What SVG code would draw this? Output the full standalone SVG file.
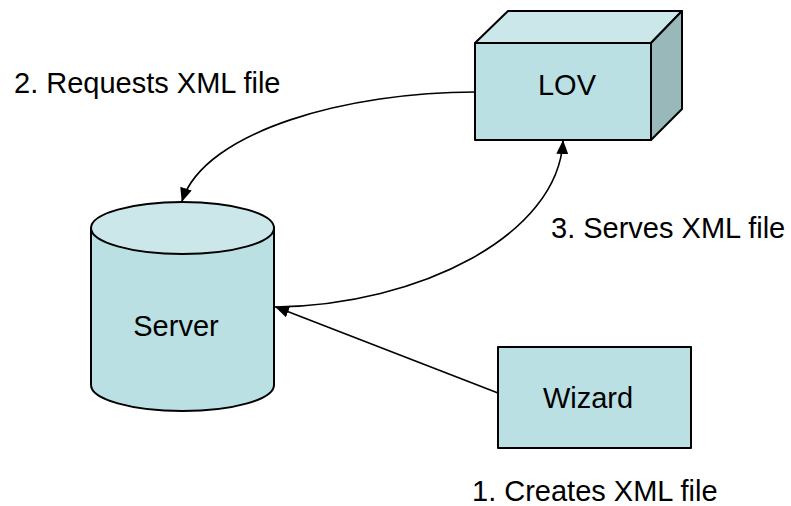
<svg xmlns="http://www.w3.org/2000/svg" width="791" height="506" viewBox="0 0 791 506">
  <style>
    .shape { fill: #bae0e3; stroke: #000; stroke-width: 2; stroke-linejoin: round; }
    .light { fill: #cbe7ea; }
    .dark { fill: #98b8ba; }
    .edge { fill: none; stroke: #000; stroke-width: 1.6; }
    text { font-family: "Liberation Sans", Arial, sans-serif; font-size: 29px; fill: #000; }
    .mid { text-anchor: middle; }
  </style>
  <defs>
    <marker id="head" viewBox="0 0 14 12" refX="13" refY="6" markerWidth="14" markerHeight="12" markerUnits="userSpaceOnUse" orient="auto">
      <path d="M0,0 L14,6 L0,12 Z" fill="#000"/>
    </marker>
  </defs>

  <g id="connectors">
    <path class="edge" d="M475,92 C350,92 205,130 182,201" marker-end="url(#head)"/>
    <path class="edge" d="M275,307 C420,305 558,235 563,141" marker-end="url(#head)"/>
    <path class="edge" d="M498,393 L276,307" marker-end="url(#head)"/>
  </g>

  <g id="lov">
    <path class="shape light" d="M475,43 L508,11 L682,11 L651,43 Z"/>
    <path class="shape dark" d="M651,43 L682,11 L682,109 L651,140 Z"/>
    <rect class="shape" x="475" y="43" width="176" height="97"/>
    <text class="mid" x="567" y="95">LOV</text>
  </g>

  <g id="server">
    <path class="shape" d="M91,228 L91,385 A91.5,26 0 0 0 274,385 L274,228 Z"/>
    <ellipse class="shape light" cx="182.5" cy="228" rx="91.5" ry="26"/>
    <text class="mid" x="176" y="336">Server</text>
  </g>

  <g id="wizard">
    <rect class="shape" x="498" y="347" width="193" height="101"/>
    <text class="mid" x="588" y="408">Wizard</text>
  </g>

  <text x="14" y="93">2. Requests XML file</text>
  <text x="551" y="238">3. Serves XML file</text>
  <text x="472" y="501">1. Creates XML file</text>
</svg>
